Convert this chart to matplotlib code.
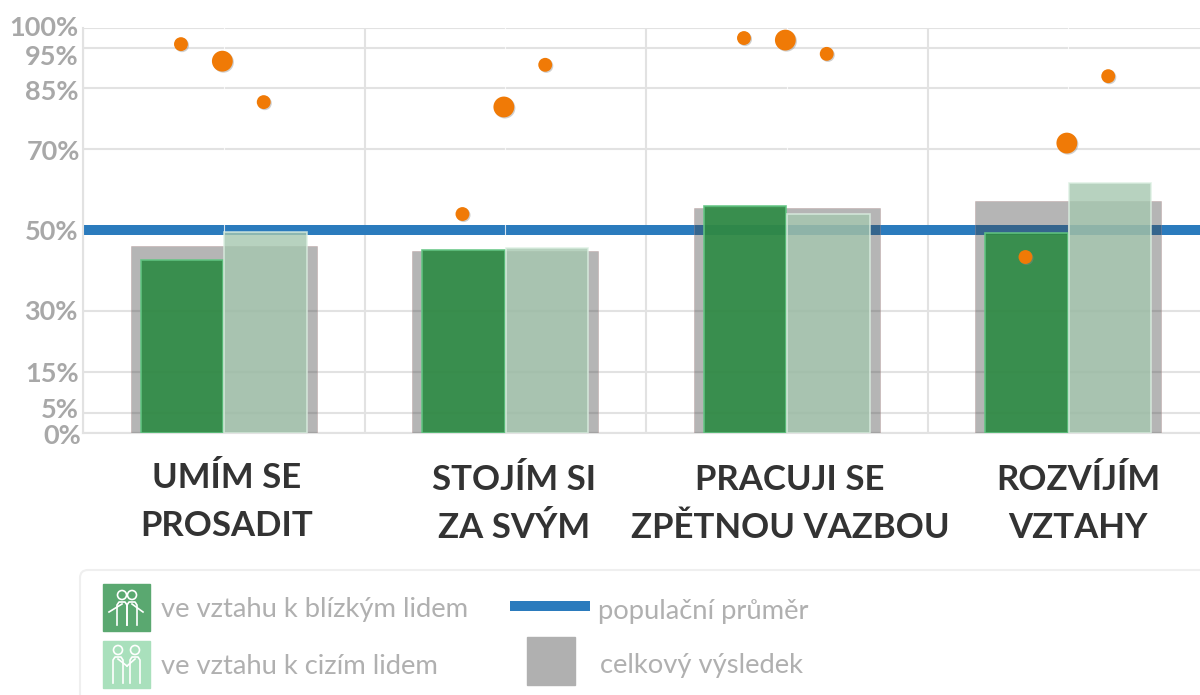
import matplotlib
matplotlib.use("Agg")
from matplotlib import pyplot as plt
from matplotlib import patheffects as pe
from matplotlib.patches import Circle, FancyBboxPatch, Rectangle
import numpy as np

plt.rcParams['font.family'] = ['Lato', 'DejaVu Sans']

categories = ["UMÍM SE\nPROSADIT", "STOJÍM SI\nZA SVÝM", "PRACUJI SE\nZPĚTNOU VAZBOU", "ROZVÍJÍM\nVZTAHY"]
total = [46.1, 44.9, 55.5, 57.2]
close_people = [42.7, 45.1, 56.0, 49.3]
strangers = [49.6, 45.6, 54.0, 61.7]
dots_left = [95.9, 54.0, 97.4, 43.4]
dots_mid = [91.7, 80.4, 96.9, 71.5]
dots_right = [81.6, 90.8, 93.5, 88.0]
population_mean = 50
y_ticks = [0, 5, 15, 30, 50, 70, 85, 95, 100]

GRID = "#e2e2e2"
TICK = "#a8a8a8"
LEGEND_TEXT = "#b0b0b0"
BLUE = "#2b7bbd"
ORANGE = "#f07a06"

fig = plt.figure(figsize=(12, 6.95), dpi=100)
ax = fig.add_axes([83 / 1200, 1 - 433 / 695, 1117 / 1200, 405.5 / 695])
x = np.arange(len(categories))

ax.set_xlim(-0.5, 3.468)
ax.set_ylim(0, 100)
ax.set_yticks(y_ticks)
ax.set_yticklabels([])
ax.set_xticks(x - 0.5)
ax.set_xticklabels([])
ax.tick_params(length=0)
ax.grid(True, color=GRID, linewidth=1.5, zorder=0)
ax.set_axisbelow(True)
for side in ["top", "right"]:
    ax.spines[side].set_visible(False)
for side in ["left", "bottom"]:
    ax.spines[side].set_color(GRID)
    ax.spines[side].set_linewidth(1.5)

ax.axhline(population_mean, color=BLUE, linewidth=7.2, zorder=2, solid_capstyle="butt")
for xc in x:
    ax.axvline(xc, color="white", linewidth=0.8, alpha=0.8, zorder=2.5)

ax.bar(x, total, width=0.66, color="#464646", alpha=0.4, edgecolor="#b08a8a", linewidth=0.6, zorder=3)
ax.bar(x - 0.148, close_people, width=0.294, color="#2f8b45", alpha=0.92, edgecolor="#62c583",
       linewidth=1.2, zorder=4)
ax.bar(x + 0.148, strangers, width=0.294, color="#a5c7af", alpha=0.8, edgecolor="#dcefe2",
       linewidth=1.2, zorder=5)

shadow = [pe.SimplePatchShadow(offset=(0.8, -0.8), shadow_rgbFace="#888888", alpha=0.4), pe.Normal()]
ax.scatter(x - 0.152, dots_left, s=100, color=ORANGE, linewidths=0, zorder=6, path_effects=shadow)
ax.scatter(x - 0.005, dots_mid, s=225, color=ORANGE, linewidths=0, zorder=6, path_effects=shadow)
ax.scatter(x + 0.142, dots_right, s=100, color=ORANGE, linewidths=0, zorder=6, path_effects=shadow)

# overlay in pixel coords for the labels and the legend
ov = fig.add_axes([0, 0, 1, 1], zorder=10)
ov.set_xlim(0, 1200)
ov.set_ylim(695, 0)
ov.axis("off")
ov.patch.set_alpha(0)

# the y labels sit off their gridlines near the ends of the axis
tick_label_pos = [(81, 436), (79, 410), (79, 374), (78, 312), (78, 232), (80, 152), (78, 92), (78, 57), (78, 28)]
for v, (tx, ty) in zip(y_ticks, tick_label_pos):
    ov.text(tx, ty, f"{v}%", ha="right", va="center", fontsize=19.5, color=TICK, fontweight="bold")

label_pos = [(227, 478), (514, 480), (790, 480), (1078, 480)]
for name, (lx, ly) in zip(categories, label_pos):
    top, bottom = name.split("\n")
    ov.text(lx, ly, top, ha="center", va="center", fontsize=25, fontweight="bold", color="#333333")
    ov.text(lx, ly + 48, bottom, ha="center", va="center", fontsize=25, fontweight="bold", color="#333333")

ov.add_patch(FancyBboxPatch((88, 578), 1300, 200, boxstyle="round,pad=8,rounding_size=8",
                            facecolor="white", edgecolor="#efefef", linewidth=1.5))
ov.add_patch(Rectangle((103, 584), 47, 47, color="#5aa870"))
ov.add_patch(Rectangle((103, 641), 47, 47, color="#a9e0bc"))
ov.plot([510, 590], [606, 606], color=BLUE, linewidth=7.2, solid_capstyle="butt")
ov.add_patch(Rectangle((527, 637), 48, 48, color="#b0b0b0"))


def person(cx, head_y, foot_y, hand_x, hand_y):
    # small outline figure, head, body and one arm
    ov.add_patch(Circle((cx, head_y), 4.5, fill=False, edgecolor="white", linewidth=1.2))
    ov.plot([cx - 5, cx - 5, cx - 3, cx + 3, cx + 5, cx + 5],
            [foot_y, head_y + 10, head_y + 7, head_y + 7, head_y + 10, foot_y],
            color="white", linewidth=1.2)
    ov.plot([cx, hand_x], [head_y + 9, hand_y], color="white", linewidth=1.2)


person(122, 595, 625, 109, 612)
person(132, 595, 625, 143, 612)
person(118, 650, 683, 127, 666)
person(135, 650, 683, 127, 666)

ov.text(161, 610, "ve vztahu k blízkým lidem", ha="left", va="center", fontsize=19.7, color=LEGEND_TEXT)
ov.text(161, 667, "ve vztahu k cizím lidem", ha="left", va="center", fontsize=19.7, color=LEGEND_TEXT)
ov.text(598, 612, "populační průměr", ha="left", va="center", fontsize=19.7, color=LEGEND_TEXT)
ov.text(600, 666, "celkový výsledek", ha="left", va="center", fontsize=19.7, color=LEGEND_TEXT)

fig.savefig("out.png", dpi=100)
